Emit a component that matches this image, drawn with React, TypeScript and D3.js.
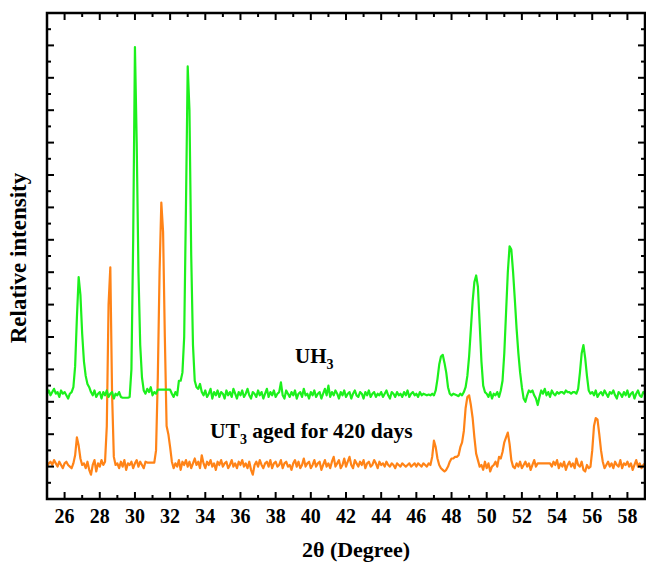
import * as d3 from 'd3';
import React, { useEffect, useRef } from 'react';

// 2θ grid: 25.0 to 59.0 in 0.1° steps
const xStart = 25;
const xStep = 0.1;

// UH3 pattern, one row per degree (N.0 ... N.9)
const uh3 = [
  6.5, 6.7, 6.4, 6.6, 6.8, 6.5, 6.6, 6.3, 6.7, 6.5, // 25
  6.6, 6.4, 6.2, 6.5, 6.6, 6.9, 8.2, 11.2, 13.7, 12.6, // 26
  10.2, 8.5, 7.6, 7.1, 6.9, 6.6, 6.4, 6.7, 6.3, 6.5, // 27
  6.6, 6.2, 6.6, 6.4, 6.7, 6.3, 6.5, 6.6, 6.2, 6.5, // 28
  6.4, 6.6, 6.3, 6.25, 6.25, 6.25, 6.25, 6.3, 8.0, 16.0, // 29
  27.9, 22.0, 14.0, 9.5, 7.5, 6.7, 6.5, 6.8, 6.6, 6.9, // 30
  6.4, 6.6, 6.5, 6.75, 6.75, 6.75, 6.75, 6.75, 6.75, 6.75, // 31
  6.75, 6.5, 6.3, 6.6, 6.4, 7.3, 7.3, 7.8, 10.0, 18.0, // 32
  26.7, 24.0, 15.0, 9.5, 7.3, 6.9, 6.8, 7.1, 6.6, 6.4, // 33
  6.7, 6.3, 6.5, 6.8, 6.2, 6.6, 6.4, 6.7, 6.3, 6.6, // 34
  6.5, 6.2, 6.7, 6.4, 6.6, 6.3, 6.8, 6.5, 6.2, 6.6, // 35
  6.4, 6.7, 6.3, 6.5, 6.8, 6.4, 6.2, 6.6, 6.5, 6.3, // 36
  6.7, 6.4, 6.6, 6.2, 6.5, 6.8, 6.3, 6.6, 6.4, 6.7, // 37
  6.3, 6.5, 6.6, 7.2, 6.4, 6.2, 6.7, 6.5, 6.3, 6.6, // 38
  6.4, 6.7, 6.2, 6.5, 6.6, 6.3, 6.8, 6.4, 6.5, 6.2, // 39
  6.6, 6.4, 6.7, 6.3, 6.5, 6.6, 6.2, 6.5, 6.8, 6.4, // 40
  7.0, 6.3, 6.6, 6.4, 6.7, 6.5, 6.2, 6.6, 6.4, 6.7, // 41
  6.3, 6.5, 6.6, 6.2, 6.5, 6.7, 6.4, 6.3, 6.6, 6.5, // 42
  6.2, 6.6, 6.4, 6.7, 6.3, 6.5, 6.6, 6.3, 6.5, 6.4, // 43
  6.6, 6.3, 6.5, 6.7, 6.4, 6.2, 6.6, 6.5, 6.3, 6.6, // 44
  6.4, 6.5, 6.3, 6.6, 6.4, 6.7, 6.3, 6.5, 6.6, 6.4, // 45
  6.5, 6.3, 6.6, 6.4, 6.5, 6.45, 6.4, 6.45, 6.4, 6.5, // 46
  6.4, 6.7, 7.4, 8.3, 8.8, 8.9, 8.4, 7.8, 6.9, 6.5, // 47
  6.4, 6.5, 6.45, 6.4, 6.35, 6.5, 6.4, 6.6, 6.9, 7.6, // 48
  8.8, 10.5, 12.2, 13.4, 13.8, 13.1, 10.8, 8.5, 7.0, 6.6, // 49
  6.5, 6.3, 6.6, 6.2, 6.5, 6.4, 6.6, 6.3, 6.7, 7.3, // 50
  9.0, 11.5, 14.0, 15.6, 15.4, 14.0, 12.3, 10.5, 9.0, 7.8, // 51
  6.9, 6.2, 6.0, 6.4, 6.7, 6.6, 6.7, 6.4, 6.2, 5.8, // 52
  6.3, 6.7, 6.5, 6.8, 6.4, 6.6, 6.3, 6.7, 6.5, 6.4, // 53
  6.6, 6.5, 6.6, 6.6, 6.5, 6.7, 6.6, 6.6, 6.5, 6.6, // 54
  6.6, 6.5, 6.8, 7.8, 9.0, 9.5, 8.7, 7.6, 6.7, 6.5, // 55
  6.6, 6.4, 6.7, 6.3, 6.5, 6.6, 6.4, 6.7, 6.5, 6.3, // 56
  6.6, 6.5, 6.7, 6.4, 6.2, 6.6, 6.5, 6.3, 6.6, 6.4, // 57
  6.7, 6.3, 6.5, 6.6, 6.2, 6.5, 6.7, 6.4, 6.3, 6.6, // 58
  6.5, // 59
];

// UT3 aged for 420 days
const ut3 = [
  2.0, 2.2, 2.3, 2.1, 2.4, 2.2, 2.0, 2.3, 2.1, 1.9, // 25
  2.2, 2.3, 2.1, 2.0, 1.9, 2.2, 2.7, 3.8, 3.3, 2.5, // 26
  2.1, 2.2, 1.9, 2.3, 1.8, 1.5, 2.1, 2.4, 1.7, 2.2, // 27
  2.0, 2.4, 2.1, 2.3, 4.5, 12.0, 14.3, 6.5, 2.6, 2.1, // 28
  2.2, 1.9, 2.3, 2.0, 2.4, 1.8, 2.2, 2.1, 2.3, 1.9, // 29
  2.2, 2.4, 2.0, 2.3, 2.1, 1.9, 2.3, 2.25, 2.25, 2.25, // 30
  2.25, 2.25, 3.0, 7.5, 14.0, 18.3, 16.5, 10.0, 4.5, 4.0, // 31
  3.2, 2.3, 1.9, 2.2, 2.0, 2.4, 1.8, 2.3, 2.1, 2.4, // 32
  2.0, 2.3, 1.9, 2.2, 2.5, 2.1, 2.3, 1.9, 2.7, 2.2, // 33
  1.9, 2.3, 2.1, 2.4, 2.0, 2.2, 1.8, 2.3, 2.1, 2.4, // 34
  2.0, 2.2, 2.3, 1.9, 2.1, 2.4, 2.0, 2.2, 1.9, 2.3, // 35
  2.1, 2.4, 2.0, 2.2, 1.9, 2.3, 1.8, 1.5, 2.1, 2.3, // 36
  2.0, 2.4, 2.1, 1.9, 2.2, 2.3, 2.0, 2.4, 1.9, 2.2, // 37
  2.3, 2.0, 2.1, 2.4, 1.9, 2.2, 2.3, 2.0, 2.1, 1.8, // 38
  2.2, 2.4, 2.0, 2.3, 1.9, 2.1, 2.5, 2.0, 2.2, 2.3, // 39
  1.9, 2.1, 2.4, 2.0, 2.2, 2.3, 1.8, 2.1, 2.4, 2.0, // 40
  2.2, 1.9, 2.3, 2.6, 2.0, 2.2, 2.4, 1.9, 2.1, 2.5, // 41
  2.0, 2.3, 2.6, 2.1, 1.9, 2.4, 2.2, 2.0, 2.3, 2.1, // 42
  2.4, 1.9, 2.2, 2.3, 2.0, 2.1, 2.4, 2.2, 1.9, 2.3, // 43
  2.1, 2.2, 2.0, 2.3, 2.1, 2.0, 2.2, 2.1, 1.9, 2.2, // 44
  2.1, 2.0, 2.2, 2.1, 2.0, 2.1, 2.2, 2.0, 2.1, 2.2, // 45
  2.0, 2.2, 2.1, 2.0, 2.2, 2.1, 2.0, 2.2, 2.1, 2.6, // 46
  3.6, 3.2, 2.5, 2.1, 1.9, 1.8, 1.7, 1.8, 2.0, 2.3, // 47
  2.5, 2.5, 2.6, 2.6, 2.7, 3.2, 3.5, 4.2, 5.6, 6.3, // 48
  6.4, 5.8, 5.0, 3.8, 2.8, 2.4, 2.0, 2.1, 1.8, 2.3, // 49
  1.9, 2.2, 1.7, 2.0, 2.1, 2.3, 2.0, 2.6, 2.5, 2.9, // 50
  3.5, 3.8, 4.1, 3.4, 2.4, 2.0, 1.9, 2.2, 2.0, 2.3, // 51
  1.9, 2.1, 2.3, 2.0, 2.2, 1.8, 2.1, 2.4, 2.0, 2.2, // 52
  2.2, 2.2, 2.2, 2.2, 2.2, 2.2, 2.2, 2.0, 2.3, 2.1, // 53
  2.4, 1.9, 2.2, 2.0, 2.3, 1.8, 2.1, 2.3, 2.0, 2.2, // 54
  1.9, 2.5, 2.1, 2.0, 2.3, 1.8, 1.7, 2.1, 1.9, 2.0, // 55
  3.0, 4.5, 5.0, 4.9, 4.0, 3.0, 2.3, 1.9, 2.1, 2.3, // 56
  2.0, 2.2, 1.9, 2.3, 2.1, 2.0, 2.4, 1.9, 2.2, 2.1, // 57
  2.3, 2.0, 2.2, 1.8, 2.1, 2.4, 2.0, 2.2, 1.9, 2.1, // 58
  2.2, // 59
];

const xTickLabels = d3.range(26, 59, 2);

const W = 646;
const H = 562;
const margin = { top: 13, right: 1, bottom: 63, left: 47 };
const font = '"Liberation Serif", "Times New Roman", serif';

const App = () => {
  const ref = useRef<SVGSVGElement>(null);

  useEffect(() => {
    const svg = d3.select(ref.current);
    svg.selectAll('*').remove();

    const graphW = W - margin.left - margin.right;
    const graphH = H - margin.top - margin.bottom;

    const x = d3.scaleLinear().domain([25, 59]).range([margin.left, margin.left + graphW]);
    const y = d3.scaleLinear().domain([0, 30]).range([margin.top + graphH, margin.top]);

    const g = svg.append('g');

    // Lines
    const line = d3.line<number>()
      .x((d, i) => x(xStart + i * xStep))
      .y(d => y(d));

    const series = [
      { values: ut3, color: '#ff8317' },
      { values: uh3, color: '#1cf01c' },
    ];
    series.forEach(s => {
      g.append('path')
        .datum(s.values)
        .attr('fill', 'none')
        .attr('stroke', s.color)
        .attr('stroke-width', 2.2)
        .attr('stroke-linejoin', 'round')
        .attr('d', line);
    });

    // Ticks (inward on all four sides)
    const xTicks = d3.range(25, 60, 1);
    const yTicks = d3.range(0, 31, 1);
    const tk = g.append('g').attr('stroke', 'black').attr('stroke-width', 2);
    const x0 = margin.left, x1 = margin.left + graphW;
    const y0 = margin.top + graphH, y1 = margin.top;

    xTicks.forEach(t => {
      const len = t % 2 === 0 ? 7 : 4;
      tk.append('line').attr('x1', x(t)).attr('x2', x(t)).attr('y1', y0).attr('y2', y0 - len);
      tk.append('line').attr('x1', x(t)).attr('x2', x(t)).attr('y1', y1).attr('y2', y1 + len);
    });
    yTicks.forEach(t => {
      const len = t % 2 === 0 ? 7 : 4;
      tk.append('line').attr('y1', y(t)).attr('y2', y(t)).attr('x1', x0).attr('x2', x0 + len);
      tk.append('line').attr('y1', y(t)).attr('y2', y(t)).attr('x1', x1).attr('x2', x1 - len);
    });

    // Frame
    g.append('rect')
      .attr('x', x0)
      .attr('y', y1)
      .attr('width', graphW)
      .attr('height', graphH)
      .attr('fill', 'none')
      .attr('stroke', 'black')
      .attr('stroke-width', 2.5);

    // Tick labels
    g.append('g')
      .selectAll('text')
      .data(xTickLabels)
      .enter()
      .append('text')
      .attr('x', d => x(d))
      .attr('y', y0 + 24)
      .attr('text-anchor', 'middle')
      .style('font-family', font)
      .style('font-weight', 'bold')
      .style('font-size', '20px')
      .text(d => d);

    // Axis titles
    g.append('text')
      .attr('x', 356)
      .attr('y', 557)
      .attr('text-anchor', 'middle')
      .style('font-family', font)
      .style('font-weight', 'bold')
      .style('font-size', '22px')
      .text('2θ (Degree)');

    g.append('text')
      .attr('transform', `translate(26, 258) rotate(-90)`)
      .attr('text-anchor', 'middle')
      .style('font-family', font)
      .style('font-weight', 'bold')
      .style('font-size', '23px')
      .text('Relative intensity');

    // Series labels
    const lab1 = g.append('text')
      .attr('x', 295)
      .attr('y', 363)
      .style('font-family', font)
      .style('font-weight', 'bold')
      .style('font-size', '21px');
    lab1.append('tspan').text('UH');
    lab1.append('tspan').attr('dy', 6).style('font-size', '14px').text('3');

    const lab2 = g.append('text')
      .attr('x', 210)
      .attr('y', 438)
      .style('font-family', font)
      .style('font-weight', 'bold')
      .style('font-size', '21.5px');
    lab2.append('tspan').text('UT');
    lab2.append('tspan').attr('dy', 6).style('font-size', '14px').text('3');
    lab2.append('tspan').attr('dy', -6).text(' aged for 420 days');
  }, []);

  return (
    <div style={{ position: 'absolute', left: 0, top: 0 }}>
      <svg ref={ref} width={W} height={H} style={{ display: 'block', background: 'white' }} />
    </div>
  );
};

export default App;
